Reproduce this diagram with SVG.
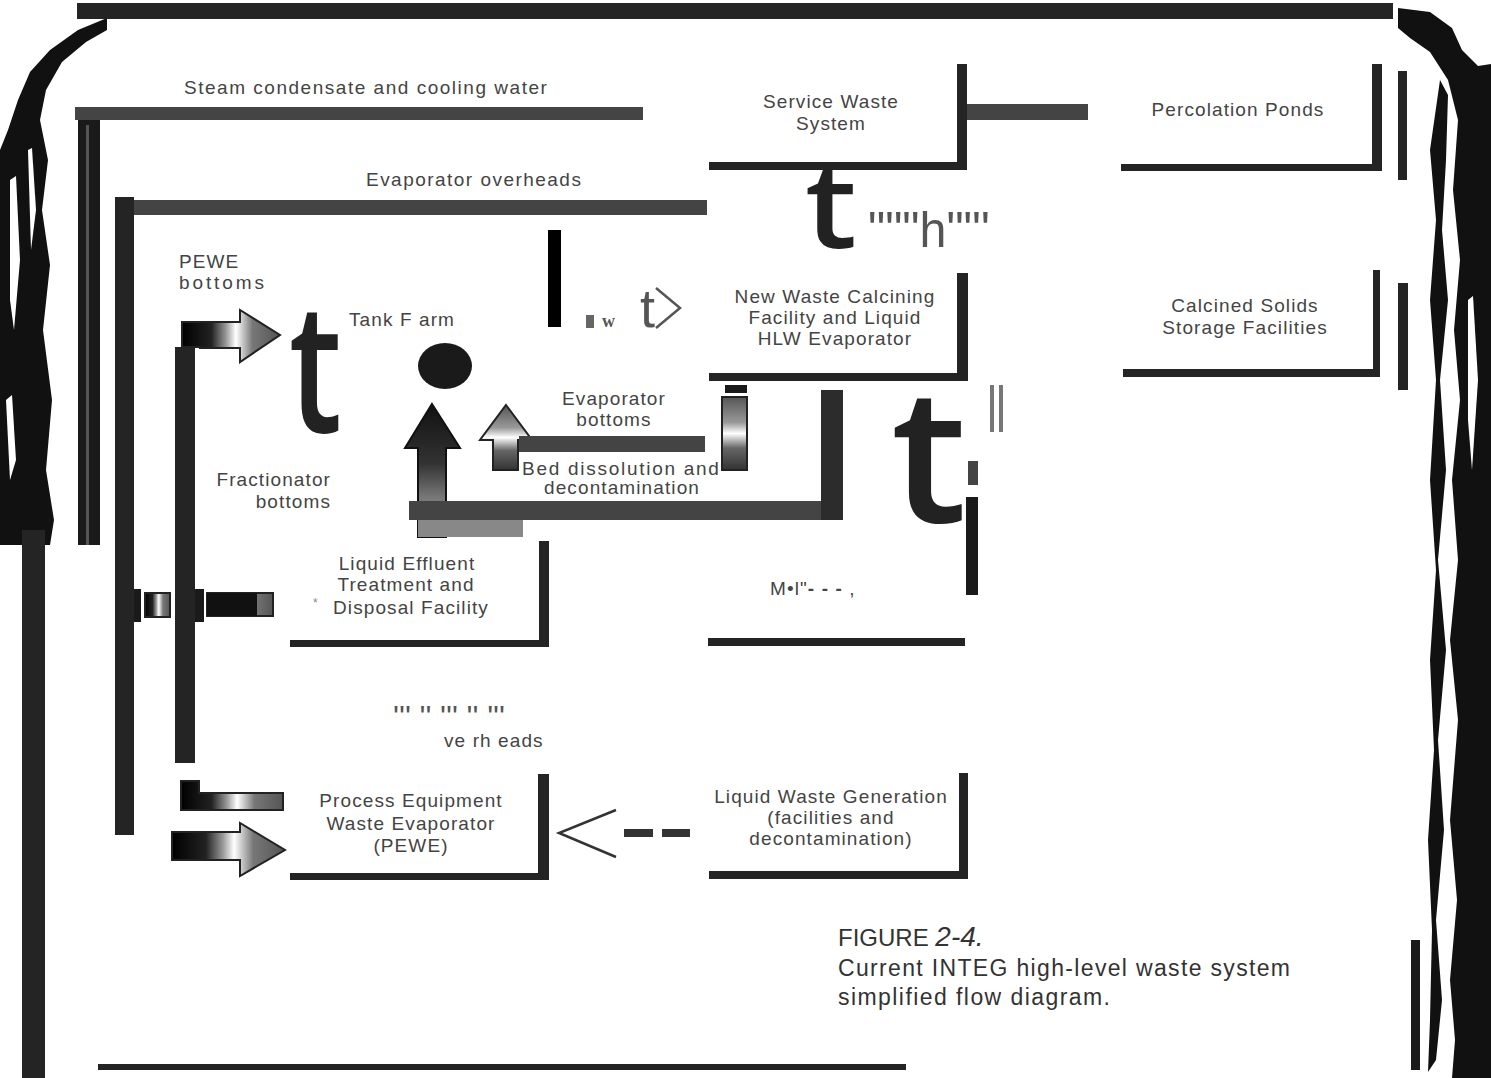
<svg xmlns="http://www.w3.org/2000/svg" width="1491" height="1078" viewBox="0 0 1491 1078">
<style>
.t{font-family:"Liberation Sans",Arial,sans-serif;font-size:19px;letter-spacing:1.1px;fill:#444}
.big{font-family:"Open Sans","Noto Sans",sans-serif;font-weight:600;fill:#222}
.bar{fill:#242424}
.gbar{fill:#444}
.scan{fill:#111}
</style>
<defs>
<linearGradient id="gh" x1="0" y1="0" x2="1" y2="0">
<stop offset="0" stop-color="#000"/><stop offset="0.3" stop-color="#222"/><stop offset="0.45" stop-color="#999"/><stop offset="0.55" stop-color="#fff"/><stop offset="0.72" stop-color="#777"/><stop offset="1" stop-color="#555"/>
</linearGradient>
<linearGradient id="gv" x1="0" y1="0" x2="0" y2="1">
<stop offset="0" stop-color="#111"/><stop offset="0.45" stop-color="#333"/><stop offset="0.7" stop-color="#777"/><stop offset="1" stop-color="#999"/>
</linearGradient>
<linearGradient id="gv2" x1="0" y1="0" x2="0" y2="1">
<stop offset="0" stop-color="#555"/><stop offset="0.35" stop-color="#999"/><stop offset="0.5" stop-color="#fff"/><stop offset="0.7" stop-color="#666"/><stop offset="1" stop-color="#333"/>
</linearGradient>
</defs>
<rect width="1491" height="1078" fill="#fff"/>

<!-- scan edges -->
<g id="scan-edges">
<path class="scan" d="M0 545 L0 150 L8 130 L18 100 L30 72 L50 50 L78 30 L107 18 L107 30 L86 42 L62 62 L46 90 L40 120 L48 160 L42 210 L50 265 L43 330 L52 400 L46 470 L54 520 L50 545 Z"/>
<path fill="#fff" d="M10 180 L16 176 L20 260 L14 330 L10 300 Z"/>
<path fill="#fff" d="M28 150 L32 148 L36 210 L31 250 Z"/>
<path fill="#fff" d="M6 400 L12 395 L16 460 L10 480 Z"/>
<rect x="78" y="120" width="22" height="425" fill="#1a1a1a"/>
<rect x="86" y="125" width="3" height="420" fill="#555"/>
<path class="scan" d="M1398 8 L1430 12 L1452 28 L1462 50 L1478 66 L1491 64 L1491 1078 L1452 1078 L1455 1040 L1450 980 L1457 900 L1450 820 L1458 720 L1450 640 L1458 560 L1452 480 L1460 400 L1454 330 L1460 260 L1453 190 L1458 120 L1448 80 L1430 52 L1410 38 L1398 28 Z"/>
<path class="scan" d="M1440 80 L1448 95 L1446 160 L1442 230 L1448 300 L1440 380 L1446 470 L1438 560 L1446 650 L1438 740 L1444 830 L1436 920 L1442 1000 L1436 1060 L1428 1072 L1430 1020 L1432 930 L1428 840 L1434 750 L1430 660 L1436 570 L1430 480 L1436 380 L1430 300 L1436 220 L1430 150 Z"/>
<path fill="#fff" d="M1468 300 L1473 296 L1478 380 L1472 470 L1468 420 Z"/>
<rect x="1411" y="940" width="9" height="130" fill="#1a1a1a"/>
</g>

<!-- frame bars -->
<g id="frame">
<rect class="bar" x="77" y="3" width="1316" height="16"/>
<rect class="bar" x="22" y="530" width="23" height="548"/>
<rect class="bar" x="98" y="1064" width="808" height="6"/>
</g>

<!-- connectors -->
<g id="connectors">
<rect class="gbar" x="75" y="107" width="568" height="13"/>
<rect class="gbar" x="134" y="200" width="573" height="15"/>
<rect class="bar" x="115" y="197" width="19" height="638"/>
<rect class="bar" x="175" y="347" width="20" height="416"/>
<rect class="gbar" x="967" y="104" width="121" height="16"/>
<rect x="548" y="230" width="13" height="97" fill="#000"/>
<rect x="586" y="315" width="8" height="13" fill="#666"/>
<text x="602" y="327" font-family="Liberation Serif,serif" font-weight="700" font-size="18" fill="#555">w</text>
<text x="640" y="327" font-family="Liberation Sans,sans-serif" font-size="54" fill="#555">t</text>
<polyline points="656,288 680,308 656,328" fill="none" stroke="#555" stroke-width="2.5"/>
<text class="big" x="805" y="248" font-size="118" textLength="52" lengthAdjust="spacingAndGlyphs">t</text>
<text x="868" y="247" font-family="Liberation Sans,sans-serif" font-size="50" fill="#555" textLength="122" lengthAdjust="spacingAndGlyphs">"""h""'</text>
<text class="big" x="289" y="432" font-size="182" textLength="53" lengthAdjust="spacingAndGlyphs">t</text>
<ellipse cx="445" cy="366" rx="27" ry="23" fill="#1a1a1a"/>
<!-- up arrows -->
<path d="M432 404 L460 448 L446 448 L446 537 L418 537 L418 448 L405 448 Z" fill="url(#gv)" stroke="#111" stroke-width="2"/>
<rect x="418" y="520" width="105" height="17" fill="#888"/>
<path d="M506 405 L532 440 L518 440 L518 470 L493 470 L493 440 L480 440 Z" fill="url(#gv2)" stroke="#222" stroke-width="2"/>
<rect class="gbar" x="519" y="436" width="186" height="16"/>
<rect class="gbar" x="409" y="501" width="434" height="19"/>
<rect x="821" y="390" width="22" height="130" fill="#2c2c2c"/>
<rect x="725" y="385" width="22" height="8" fill="#1a1a1a"/>
<rect x="722" y="397" width="25" height="73" fill="url(#gv2)" stroke="#222" stroke-width="2"/>
<text class="big" x="891" y="522" font-size="186" textLength="76" lengthAdjust="spacingAndGlyphs">t</text>
<rect x="990" y="385" width="4" height="47" fill="#777"/>
<rect x="999" y="385" width="4" height="47" fill="#777"/>
<rect x="968" y="461" width="10" height="24" fill="#444"/>
<rect x="966" y="497" width="12" height="98" fill="#1a1a1a"/>
<!-- PEWE bottoms bent arrow -->
<path d="M182 347 L182 322 L240 322 L240 310 L280 335 L240 362 L240 348 L200 348 L200 347 Z" fill="url(#gh)" stroke="#222" stroke-width="2"/>
<!-- left small pieces -->
<rect x="134" y="589" width="7" height="33" fill="#1a1a1a"/>
<rect x="145" y="593" width="25" height="24" fill="url(#gh)" stroke="#222" stroke-width="2"/>
<rect x="195" y="589" width="9" height="33" fill="#1a1a1a"/>
<rect x="207" y="593" width="66" height="23" fill="url(#gh)" stroke="#222" stroke-width="2"/>
<rect x="207" y="593" width="50" height="23" fill="#111"/>
<!-- PEWE input arrows -->
<path d="M181 781 L199 781 L199 793 L283 793 L283 810 L181 810 Z" fill="url(#gh)" stroke="#222" stroke-width="2"/>
<path d="M172 832 L240 832 L240 823 L285 850 L240 876 L240 860 L172 860 Z" fill="url(#gh)" stroke="#222" stroke-width="2"/>
<!-- dashed arrow -->
<polyline points="616,810 559,833 616,857" fill="none" stroke="#333" stroke-width="2.5"/>
<rect x="624" y="829" width="29" height="8" fill="#333"/>
<rect x="662" y="829" width="28" height="8" fill="#333"/>
<text x="393" y="726" font-family="Liberation Sans,sans-serif" font-size="30" fill="#555" textLength="112" lengthAdjust="spacingAndGlyphs">''' '' ''' '' '''</text>
<text class="t" x="444" y="747">ve rh eads</text>
</g>

<!-- labels -->
<g id="labels">
<text class="t" x="184" y="94" textLength="364" lengthAdjust="spacing">Steam condensate and  cooling  water</text>
<text class="t" x="366" y="186" textLength="216" lengthAdjust="spacing">Evaporator overheads</text>
<text class="t" x="179" y="268" font-size="18" letter-spacing="0">PEWE</text>
<text class="t" x="179" y="289" font-size="20" textLength="86" lengthAdjust="spacing">bottoms</text>
<text class="t" x="349" y="326">Tank F  arm</text>
<text class="t" x="614" y="405" text-anchor="middle">Evaporator</text>
<text class="t" x="614" y="426" text-anchor="middle">bottoms</text>
<text class="t" x="522" y="475" textLength="198" lengthAdjust="spacing">Bed dissolution  and</text>
<text class="t" x="622" y="494" text-anchor="middle">decontamination</text>
<text class="t" x="331" y="486" text-anchor="end">Fractionator</text>
<text class="t" x="331" y="508" text-anchor="end">bottoms</text>
</g>

<g id="node-service-waste">
<rect class="bar" x="709" y="162" width="258" height="8"/>
<rect class="bar" x="957" y="64" width="10" height="106"/>
<text class="t" x="831" y="108" text-anchor="middle">Service  Waste</text>
<text class="t" x="831" y="130" text-anchor="middle">System</text>
</g>

<g id="node-percolation-ponds">
<rect class="bar" x="1121" y="164" width="261" height="7"/>
<rect class="bar" x="1372" y="64" width="10" height="107"/>
<rect class="bar" x="1398" y="71" width="9" height="109"/>
<text class="t" x="1238" y="116" text-anchor="middle">Percolation Ponds</text>
</g>

<g id="node-calcining">
<rect class="bar" x="709" y="373" width="259" height="8"/>
<rect class="bar" x="957" y="273" width="11" height="108"/>
<text class="t" x="835" y="303" text-anchor="middle">New Waste  Calcining</text>
<text class="t" x="835" y="324" text-anchor="middle">Facility  and  Liquid</text>
<text class="t" x="835" y="345" text-anchor="middle">HLW Evaporator</text>
</g>

<g id="node-calcined-solids">
<rect class="bar" x="1123" y="369" width="257" height="8"/>
<rect class="bar" x="1373" y="270" width="7" height="107"/>
<rect class="bar" x="1398" y="283" width="10" height="107"/>
<text class="t" x="1245" y="312" text-anchor="middle">Calcined Solids</text>
<text class="t" x="1245" y="334" text-anchor="middle">Storage Facilities</text>
</g>

<g id="node-liquid-effluent">
<rect class="bar" x="290" y="640" width="259" height="7"/>
<rect class="bar" x="539" y="541" width="10" height="106"/>
<text class="t" x="407" y="570" text-anchor="middle">Liquid Effluent</text>
<text class="t" x="406" y="591" text-anchor="middle">Treatment and</text>
<text class="t" x="411" y="614" text-anchor="middle">Disposal Facility</text>
<text x="313" y="607" font-family="Liberation Sans,sans-serif" font-size="12" fill="#888">*</text>
</g>

<g id="node-unknown">
<rect class="bar" x="708" y="638" width="257" height="8"/>
<text class="t" x="770" y="595">M•l"<tspan font-weight="700">- - -</tspan>   ,</text>
</g>

<g id="node-pewe">
<rect class="bar" x="290" y="873" width="259" height="7"/>
<rect class="bar" x="538" y="774" width="11" height="106"/>
<text class="t" x="411" y="807" text-anchor="middle">Process Equipment</text>
<text class="t" x="411" y="830" text-anchor="middle">Waste Evaporator</text>
<text class="t" x="411" y="852" text-anchor="middle">(PEWE)</text>
</g>

<g id="node-liquid-waste-generation">
<rect class="bar" x="709" y="871" width="259" height="8"/>
<rect class="bar" x="959" y="773" width="9" height="106"/>
<text class="t" x="831" y="803" text-anchor="middle">Liquid  Waste  Generation</text>
<text class="t" x="831" y="824" text-anchor="middle">(facilities  and</text>
<text class="t" x="831" y="845" text-anchor="middle">decontamination)</text>
</g>

<g id="caption">
<text x="838" y="946" font-family="Liberation Sans,sans-serif" font-size="24" fill="#333">FIGURE  <tspan font-style="italic" font-size="28">2-4.</tspan></text>
<text x="838" y="976" font-family="Liberation Sans,sans-serif" font-size="23" fill="#333" textLength="452" lengthAdjust="spacing">Current INTEG high-level waste system</text>
<text x="838" y="1005" font-family="Liberation Sans,sans-serif" font-size="23" fill="#333" textLength="272" lengthAdjust="spacing">simplified flow diagram.</text>
</g>
</svg>
